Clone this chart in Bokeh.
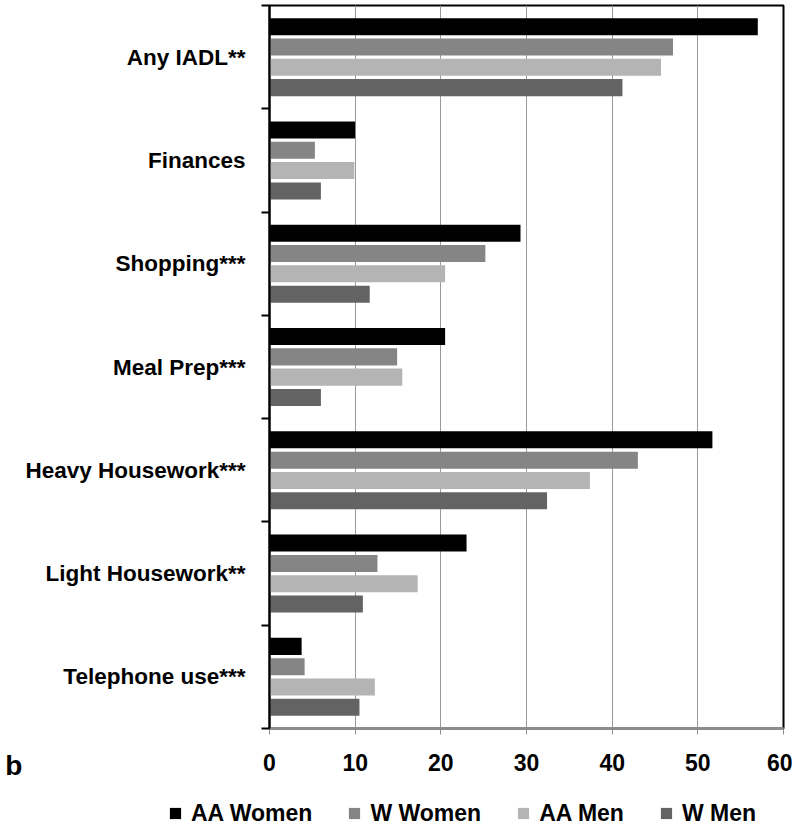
from bokeh.plotting import figure
from bokeh.layouts import column
from bokeh.models import (Range1d, FixedTicker, Legend, LegendItem,
                          ColumnDataSource)
from bokeh.embed import file_html
from bokeh.resources import INLINE

categories = ["Any IADL**", "Finances", "Shopping***", "Meal Prep***",
              "Heavy Housework***", "Light Housework**", "Telephone use***"]
series_names = ["AA Women", "W Women", "AA Men", "W Men"]
aa_women = [57.0, 10.0, 29.3, 20.5, 51.7, 23.0, 3.75]
w_women = [47.1, 5.3, 25.2, 14.9, 43.0, 12.6, 4.1]
aa_men = [45.7, 9.9, 20.5, 15.5, 37.4, 17.3, 12.3]
w_men = [41.2, 6.0, 11.7, 6.0, 32.4, 10.9, 10.5]
x_ticks = [0, 10, 20, 30, 40, 50, 60]
panel_letter = "b"

colors = ["#000000", "#858585", "#b4b4b4", "#636363"]
offsets = [0.295, 0.098, -0.098, -0.295]
series = [aa_women, w_women, aa_men, w_men]

FONT = "Liberation Sans"

n = len(categories)
centers = [n - 1 - i + 0.5 for i in range(n)]

p = figure(frame_width=514, frame_height=723, output_backend="svg",
           toolbar_location=None,
           x_range=Range1d(0, 60), y_range=Range1d(0, n),
           min_border_left=269, min_border_right=9, min_border_top=5,
           min_border_bottom=60)

for name, vals, col, off in zip(series_names, series, colors, offsets):
    src = ColumnDataSource(dict(y=[c + off for c in centers], right=vals))
    p.hbar(y="y", left=0, right="right", height=0.165, source=src,
           fill_color=col, line_color=None)

# x axis
p.xaxis.ticker = FixedTicker(ticks=x_ticks)
p.xaxis.axis_line_color = "#8c8c8c"
p.xaxis.axis_line_width = 3
p.xaxis.major_tick_line_color = "#8c8c8c"
p.xaxis.major_tick_out = 6
p.xaxis.major_tick_in = 0
p.xaxis.minor_tick_line_color = None
p.xaxis.major_label_text_font = FONT
p.xaxis.major_label_text_font_style = "bold"
p.xaxis.major_label_text_font_size = "23px"
p.xaxis.major_label_text_color = "#000000"
p.xaxis.major_label_standoff = 19

# y axis: labels at category centres, tick marks at category boundaries
yax = p.yaxis[0]
yax.ticker = FixedTicker(ticks=centers, minor_ticks=list(range(n + 1)))
yax.major_label_overrides = {c: categories[i] for i, c in enumerate(centers)}
yax.major_tick_out = 0
yax.major_tick_in = 0
yax.minor_tick_out = 8
yax.minor_tick_in = 0
yax.minor_tick_line_color = "#000000"
yax.minor_tick_line_width = 2
yax.axis_line_color = "#000000"
yax.axis_line_width = 2
yax.major_label_text_font = FONT
yax.major_label_text_font_style = "bold"
yax.major_label_text_font_size = "22.5px"
yax.major_label_text_color = "#000000"
yax.major_label_standoff = 16
# panel letter as horizontal axis label at the bottom-left, dropped two lines
yax.axis_label = "\n\n" + panel_letter
yax.axis_label_orientation = "horizontal"
yax.axis_label_standoff = 0
yax.axis_label_text_font = FONT
yax.axis_label_text_font_style = "bold"
yax.axis_label_text_font_size = "28px"
yax.axis_label_text_color = "#000000"
if "axis_label_align" in yax.properties():
    yax.axis_label_align = "start"

p.xgrid.grid_line_color = "#9a9a9a"
p.xgrid.grid_line_width = 1
p.ygrid.grid_line_color = None
p.outline_line_color = "#000000"
p.outline_line_width = 2
p.background_fill_color = "#ffffff"
p.border_fill_color = "#ffffff"

# legend strip below the chart
lg = figure(width=792, height=39, output_backend="svg", toolbar_location=None,
            x_range=Range1d(0, 1), y_range=Range1d(0, 1), min_border=0)
if "frame_align" in lg.properties():
    lg.frame_align = False
lg.axis.visible = False
lg.grid.visible = False
lg.outline_line_color = None
items = []
for name, col in zip(series_names, colors):
    r = lg.hbar(y=[-1], left=[0], right=[1], height=0.1, fill_color=col,
                line_color=None)
    items.append(LegendItem(label=name, renderers=[r]))
legend = Legend(items=items, orientation="horizontal", location=(168, 0),
                glyph_width=14, glyph_height=14, label_standoff=9, spacing=35,
                label_text_font=FONT, label_text_font_style="bold",
                label_text_font_size="23px", label_text_color="#000000",
                border_line_color=None, background_fill_alpha=0,
                padding=0, margin=0, label_height=28)
lg.add_layout(legend)

layout = column(p, lg, spacing=0)
open("out.html", "w").write(file_html(layout, INLINE))
